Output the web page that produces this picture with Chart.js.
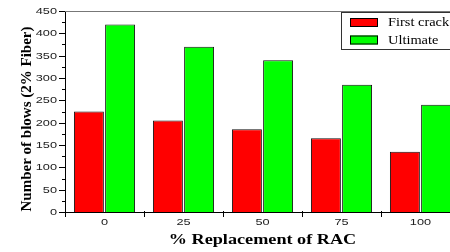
<!DOCTYPE html>
<html>
<head>
<meta charset="utf-8">
<script src="https://cdn.jsdelivr.net/npm/chart.js@4.4.1/dist/chart.umd.min.js"></script>
<style>
  html, body { margin: 0; padding: 0; background: #fff; overflow: hidden; }
  canvas { display: block; }
</style>
</head>
<body>
<canvas id="blowsChart" width="470" height="252"></canvas>
<script>
// data
const categories = ['0', '25', '50', '75', '100'];
const firstCrack = [225, 205, 185, 165, 135];
const ultimate = [420, 370, 340, 285, 240];
const seriesNames = ['First crack', 'Ultimate'];
const yTicks = { min: 0, max: 450, major: 50, minor: 25 };
const xTitle = '% Replacement of RAC';
const yTitle = 'Number of blows (2% Fiber)';

// draw text squeezed/stretched horizontally (the reference is stretched)
function stretchedText(ctx, text, x, y, sx, align) {
    ctx.save();
    ctx.translate(x, y);
    ctx.scale(sx, 1);
    ctx.textAlign = align;
    ctx.fillText(text, 0, 0);
    ctx.restore();
}

const axisDecor = {
    id: 'axisDecor',
    afterDraw(chart) {
        const ctx = chart.ctx;
        const area = chart.chartArea;
        const xs = chart.scales.x;
        const ys = chart.scales.y;

        ctx.save();
        // top frame line
        ctx.strokeStyle = '#777';
        ctx.lineWidth = 1;
        ctx.beginPath();
        ctx.moveTo(area.left, area.top + 0.5);
        ctx.lineTo(area.right, area.top + 0.5);
        ctx.stroke();

        // y ticks and labels
        ctx.strokeStyle = '#000';
        ctx.fillStyle = '#222';
        ctx.font = '8.5px "Liberation Sans", Arial, sans-serif';
        ctx.textBaseline = 'middle';
        ys.ticks.forEach((t, i) => {
            const py = Math.round(ys.getPixelForTick(i)) + 0.5;
            const isMajor = t.value % yTicks.major === 0;
            ctx.beginPath();
            ctx.moveTo(area.left - (isMajor ? 6 : 3), py);
            ctx.lineTo(area.left, py);
            ctx.stroke();
            if (isMajor) {
                stretchedText(ctx, String(t.value), area.left - 8, py, 1.5, 'right');
            }
        });

        // x ticks at category boundaries and labels
        const w = xs.getPixelForValue(1) - xs.getPixelForValue(0);
        categories.forEach((c, i) => {
            const px = xs.getPixelForValue(i);
            const bx = Math.round(px - w / 2) + 0.5;
            ctx.beginPath();
            ctx.moveTo(bx, area.bottom - 1);
            ctx.lineTo(bx, area.bottom + 5);
            ctx.stroke();
            stretchedText(ctx, c, px, area.bottom + 10.5, 1.5, 'center');
        });

        // axis titles
        ctx.fillStyle = '#000';
        ctx.font = 'bold 14px "Liberation Serif", "Times New Roman", serif';
        stretchedText(ctx, xTitle, (area.left + area.right) / 2, 240, 1.3, 'center');

        ctx.font = 'bold 15px "Liberation Serif", "Times New Roman", serif';
        ctx.save();
        ctx.translate(27, 119);
        ctx.rotate(-Math.PI / 2);
        ctx.textAlign = 'center';
        ctx.fillText(yTitle, 0, 0);
        ctx.restore();

        // legend box
        ctx.fillStyle = '#fff';
        ctx.fillRect(341, 12, 140, 37);
        ctx.strokeStyle = '#333';
        ctx.strokeRect(341.5, 12.5, 140, 37);
        ctx.font = '12px "Liberation Serif", "Times New Roman", serif';
        chart.data.datasets.forEach((ds, i) => {
            const top = 18 + i * 17.5;
            ctx.fillStyle = ds.backgroundColor;
            ctx.fillRect(350, top, 28, 9);
            ctx.strokeStyle = '#000';
            ctx.strokeRect(350.5, top + 0.5, 27, 8);
            ctx.fillStyle = '#000';
            stretchedText(ctx, ds.label, 388, top + 5, 1.2, 'left');
        });
        ctx.restore();
    }
};

new Chart(document.getElementById('blowsChart').getContext('2d'), {
    type: 'bar',
    data: {
        labels: categories,
        datasets: [
            {
                label: seriesNames[0],
                data: firstCrack,
                backgroundColor: '#ff0000',
                borderColor: '#111',
                borderWidth: 1,
                categoryPercentage: 0.79,
                barPercentage: 0.96
            },
            {
                label: seriesNames[1],
                data: ultimate,
                backgroundColor: '#00ff00',
                borderColor: '#111',
                borderWidth: 1,
                categoryPercentage: 0.79,
                barPercentage: 0.96
            }
        ]
    },
    options: {
        responsive: false,
        animation: false,
        layout: { padding: { top: 11, right: 10, left: 0, bottom: 0 } },
        plugins: {
            legend: { display: false },
            tooltip: { enabled: false }
        },
        scales: {
            x: {
                grid: { display: false },
                border: { display: true, color: '#000', width: 1 },
                ticks: { display: false },
                afterFit: scale => { scale.height = 40; }
            },
            y: {
                min: yTicks.min,
                max: yTicks.max,
                grid: { display: false },
                border: { display: true, color: '#000', width: 1 },
                ticks: { display: false, stepSize: yTicks.minor },
                afterFit: scale => { scale.width = 65; }
            }
        }
    },
    plugins: [axisDecor]
});
</script>
</body>
</html>
